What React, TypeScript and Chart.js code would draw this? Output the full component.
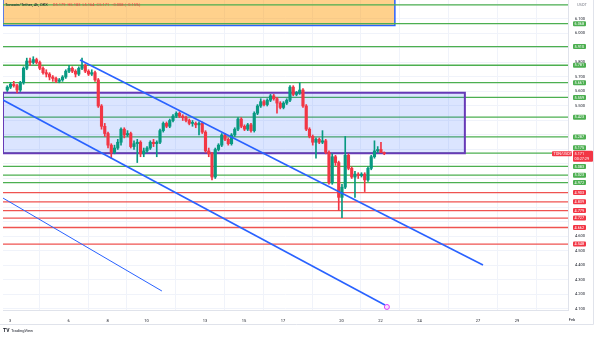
import React, { useEffect, useRef } from 'react';
import { Chart, registerables } from 'chart.js';

Chart.register(...registerables);

// ---- time axis (days of January) ----
const firstCandleDay = 2.86;
const candleStepDays = 1 / 6; // 4h candles
const dayTicks = [3, 6, 8, 10, 13, 15, 17, 20, 22, 24, 27, 29];
const monthTickDay = 32;
const monthTickLabel = 'Feb';
const xRange = [2.64, 31.62];
const yRange = [4.093, 6.231];

// ---- candles ----
const opens = [
  5.61, 5.63, 5.65, 5.64, 5.61, 5.66, 5.76, 5.81, 5.80, 5.82,
  5.80, 5.76, 5.73, 5.72, 5.70, 5.69, 5.67, 5.68, 5.70, 5.74,
  5.76, 5.74, 5.72, 5.76, 5.78, 5.74, 5.72, 5.73, 5.68, 5.50,
  5.36, 5.31, 5.23, 5.18, 5.21, 5.25, 5.34, 5.30, 5.31, 5.22,
  5.24, 5.25, 5.17, 5.19, 5.21, 5.25, 5.24, 5.25, 5.33, 5.38,
  5.36, 5.40, 5.43, 5.45, 5.43, 5.42, 5.40, 5.38, 5.38, 5.37,
  5.38, 5.32, 5.19, 5.17, 5.01, 5.20, 5.23, 5.30, 5.27, 5.24,
  5.30, 5.34, 5.41, 5.36, 5.34, 5.37, 5.33, 5.45, 5.50, 5.53,
  5.51, 5.54, 5.57, 5.55, 5.52, 5.49, 5.52, 5.54, 5.63, 5.58,
  5.59, 5.61, 5.50, 5.34, 5.29, 5.25, 5.27, 5.25, 5.26, 5.18,
  4.97, 5.15, 5.11, 4.87, 4.94, 5.16, 5.07, 5.01, 5.03, 5.02,
  5.03, 4.99, 5.07, 5.15, 5.19, 5.20, 5.179,
];
const highs = [
  5.64, 5.66, 5.67, 5.65, 5.67, 5.77, 5.83, 5.83, 5.84, 5.83,
  5.81, 5.77, 5.75, 5.73, 5.71, 5.70, 5.69, 5.71, 5.75, 5.78,
  5.77, 5.75, 5.77, 5.83, 5.79, 5.75, 5.75, 5.74, 5.69, 5.51,
  5.38, 5.32, 5.24, 5.23, 5.27, 5.35, 5.35, 5.33, 5.32, 5.26,
  5.27, 5.26, 5.21, 5.22, 5.26, 5.27, 5.26, 5.34, 5.39, 5.39,
  5.41, 5.44, 5.46, 5.46, 5.44, 5.43, 5.41, 5.40, 5.39, 5.39,
  5.39, 5.33, 5.21, 5.18, 5.21, 5.24, 5.31, 5.31, 5.28, 5.31,
  5.35, 5.42, 5.42, 5.37, 5.38, 5.38, 5.46, 5.51, 5.55, 5.54,
  5.55, 5.58, 5.58, 5.56, 5.53, 5.53, 5.55, 5.64, 5.64, 5.60,
  5.66, 5.62, 5.51, 5.35, 5.30, 5.28, 5.28, 5.33, 5.27, 5.19,
  5.17, 5.16, 5.12, 4.96, 5.29, 5.17, 5.08, 5.05, 5.04, 5.04,
  5.04, 5.08, 5.16, 5.26, 5.22, 5.25, 5.183,
];
const lows = [
  5.60, 5.62, 5.63, 5.59, 5.60, 5.65, 5.75, 5.78, 5.79, 5.79,
  5.75, 5.72, 5.70, 5.68, 5.67, 5.66, 5.66, 5.67, 5.69, 5.73,
  5.73, 5.70, 5.71, 5.75, 5.73, 5.71, 5.71, 5.67, 5.49, 5.34,
  5.29, 5.21, 5.14, 5.17, 5.20, 5.23, 5.28, 5.29, 5.21, 5.20,
  5.11, 5.15, 5.15, 5.18, 5.20, 5.22, 5.15, 5.24, 5.32, 5.35,
  5.35, 5.39, 5.42, 5.42, 5.40, 5.39, 5.37, 5.36, 5.35, 5.30,
  5.31, 5.18, 5.15, 4.99, 5.00, 5.19, 5.22, 5.26, 5.23, 5.23,
  5.29, 5.33, 5.35, 5.33, 5.33, 5.32, 5.32, 5.44, 5.49, 5.50,
  5.50, 5.53, 5.54, 5.45, 5.48, 5.48, 5.51, 5.53, 5.57, 5.57,
  5.58, 5.49, 5.33, 5.28, 5.23, 5.14, 5.24, 5.24, 5.17, 4.96,
  4.96, 5.09, 4.78, 4.73, 4.93, 5.06, 5.00, 4.87, 5.00, 5.01,
  4.91, 4.98, 5.06, 5.14, 5.18, 5.18, 5.164,
];
const closes = [
  5.63, 5.65, 5.64, 5.61, 5.66, 5.76, 5.81, 5.80, 5.82, 5.80,
  5.76, 5.73, 5.72, 5.70, 5.69, 5.67, 5.68, 5.70, 5.74, 5.76,
  5.74, 5.72, 5.76, 5.78, 5.74, 5.72, 5.73, 5.68, 5.50, 5.36,
  5.31, 5.23, 5.18, 5.21, 5.25, 5.34, 5.30, 5.31, 5.22, 5.24,
  5.25, 5.17, 5.19, 5.21, 5.25, 5.24, 5.25, 5.33, 5.38, 5.36,
  5.40, 5.43, 5.45, 5.43, 5.42, 5.40, 5.38, 5.38, 5.37, 5.38,
  5.32, 5.19, 5.17, 5.01, 5.20, 5.23, 5.30, 5.27, 5.24, 5.30,
  5.34, 5.41, 5.36, 5.34, 5.37, 5.33, 5.45, 5.50, 5.53, 5.51,
  5.54, 5.57, 5.55, 5.52, 5.49, 5.52, 5.54, 5.63, 5.58, 5.59,
  5.61, 5.50, 5.34, 5.29, 5.25, 5.27, 5.25, 5.26, 5.18, 4.97,
  5.15, 5.11, 4.87, 4.94, 5.16, 5.07, 5.01, 5.03, 5.02, 5.03,
  4.99, 5.07, 5.15, 5.19, 5.20, 5.179, 5.171,
];

// ---- drawings ----
const greenLevels = [6.197, 6.068, 5.910, 5.781, 5.661, 5.559, 5.423, 5.287, 5.175, 5.083, 5.023, 4.972];
const greenLabels = [6.068, 5.910, 5.781, 5.661, 5.559, 5.423, 5.287, 5.175, 5.083, 5.023, 4.972];
const redLevels = [4.903, 4.839, 4.779, 4.727, 4.662, 4.548];
const currentPrice = 5.171;
const countdownText = '00:27:29';
const symbolTag = 'TON/USDT';
const headerTitle = 'Toncoin/Tether, 4h, OKX';
const headerValues = 'O5.179  H5.183  L5.164  C5.171  −0.008 (−0.15%)';
const priceTickLabels = ['6.100', '6.000', '5.800', '5.700', '5.600', '5.500', '4.600', '4.500', '4.400', '4.300', '4.200', '4.100'];

const orangeZoneDays = [2.64, 22.74];
const orangeZonePrices = [6.055, 6.45];
const blueZoneDays = [2.64, 26.33];
const blueZonePrices = [5.174, 5.592];

const upperChannelDays = [6.59, 27.26];
const upperChannelPrices = [5.817, 4.403];
const lowerChannelDays = [2.64, 22.23];
const lowerChannelPrices = [5.541, 4.128];
const thinLineDays = [2.64, 10.79];
const thinLinePrices = [4.865, 4.224];
const markerDay = [22.33];
const markerPrice = [4.114];

const UP = '#089981';
const DOWN = '#f23645';
const GREEN = '#4caf50';
const RED = '#ef5350';
const BLUE = '#2962ff';
const PURPLE = '#673ab7';
const FRAME = '#e0e3eb';
const FONT = 'Roboto, "DejaVu Sans", sans-serif';

function rectPoints(days: number[], prices: number[]) {
  return [
    { x: days[0], y: prices[0] },
    { x: days[0], y: prices[1] },
    { x: days[1], y: prices[1] },
    { x: days[1], y: prices[0] },
    { x: days[0], y: prices[0] },
  ];
}

function tag(ctx: CanvasRenderingContext2D, x: number, top: number, w: number, h: number, bg: string) {
  ctx.fillStyle = bg;
  ctx.beginPath();
  const r = 1;
  ctx.moveTo(x + r, top);
  ctx.lineTo(x + w - r, top);
  ctx.quadraticCurveTo(x + w, top, x + w, top + r);
  ctx.lineTo(x + w, top + h - r);
  ctx.quadraticCurveTo(x + w, top + h, x + w - r, top + h);
  ctx.lineTo(x + r, top + h);
  ctx.quadraticCurveTo(x, top + h, x, top + h - r);
  ctx.lineTo(x, top + r);
  ctx.quadraticCurveTo(x, top, x + r, top);
  ctx.fill();
}

const overlayPlugin = {
  id: 'tvOverlay',
  afterDraw(chart: any) {
    const { ctx, chartArea } = chart;
    const ys = chart.scales.y;
    const xs = chart.scales.x;
    ctx.save();
    ctx.textBaseline = 'middle';

    // outer frame (price/time axis edges)
    ctx.strokeStyle = FRAME;
    ctx.lineWidth = 1;
    ctx.beginPath();
    ctx.moveTo(593.5, 0);
    ctx.lineTo(593.5, 324.5);
    ctx.lineTo(0, 324.5);
    ctx.stroke();

    // header
    ctx.font = `4px ${FONT}`;
    ctx.fillStyle = '#131722';
    ctx.textAlign = 'left';
    ctx.fillText(headerTitle, 5, 5);
    const tw = ctx.measureText(headerTitle).width;
    ctx.fillStyle = DOWN;
    ctx.fillText(headerValues, 5 + tw + 5, 5);

    // USDT
    ctx.fillStyle = '#787b86';
    ctx.fillText('USDT', 577, 5);

    // current price tag
    const cp = ys.getPixelForValue(currentPrice);
    const curTop = cp - 3;
    const curBottom = cp + 8;
    const tagX = chartArea.right + 5;

    const items = [
      ...greenLabels.map((v) => ({ v, c: GREEN })),
      ...redLevels.map((v) => ({ v, c: DOWN })),
    ];
    ctx.font = `3.8px ${FONT}`;
    items.forEach((it) => {
      let yc = ys.getPixelForValue(it.v);
      if (yc + 2.5 > curTop && yc - 2.5 < curBottom) {
        yc = yc < (curTop + curBottom) / 2 ? curTop - 3 : curBottom + 3;
      }
      tag(ctx, tagX, yc - 2.5, 13, 5, it.c);
      ctx.fillStyle = '#ffffff';
      ctx.fillText(it.v.toFixed(3), tagX + 1.5, yc + 0.2);
    });

    tag(ctx, tagX, curTop, 20, 11, DOWN);
    ctx.fillStyle = '#ffffff';
    ctx.fillText(currentPrice.toFixed(3), tagX + 1.5, cp + 0.2);
    ctx.fillText(countdownText, tagX + 1.5, cp + 5.2);

    tag(ctx, chartArea.right - 16, cp - 2.5, 20, 5, DOWN);
    ctx.fillStyle = '#ffffff';
    ctx.fillText(symbolTag, chartArea.right - 14.5, cp + 0.2);

    // month label at right edge of time axis (clipped)
    ctx.save();
    ctx.beginPath();
    ctx.rect(0, chartArea.bottom, 575, 14);
    ctx.clip();
    ctx.font = `4px ${FONT}`;
    ctx.fillStyle = '#131722';
    ctx.textAlign = 'center';
    const mx = Math.min(xs.getPixelForValue(monthTickDay), chartArea.right + 4);
    ctx.fillText(monthTickLabel, mx, 320);
    ctx.restore();

    // logo
    ctx.textAlign = 'left';
    ctx.fillStyle = '#131722';
    ctx.font = `bold 5px ${FONT}`;
    ctx.fillText('TV', 3, 331);
    ctx.font = `4px ${FONT}`;
    ctx.fillText('TradingView', 11, 331);

    ctx.restore();
  },
};

export default function App() {
  const ref = useRef<HTMLCanvasElement | null>(null);

  useEffect(() => {
    if (!ref.current) return;
    const candleX = opens.map((_, i) => firstCandleDay + i * candleStepDays);
    const candleColors = closes.map((c, i) => (c >= opens[i] ? UP : DOWN));

    const levelLine = (v: number, color: string) => ({
      type: 'line' as const,
      data: [
        { x: xRange[0], y: v },
        { x: xRange[1], y: v },
      ],
      borderColor: color,
      borderWidth: 1.3,
      pointRadius: 0,
      fill: false,
      order: 8,
    });

    const seg = (days: number[], prices: number[], width: number) => ({
      type: 'line' as const,
      data: days.map((d, i) => ({ x: d, y: prices[i] })),
      borderColor: BLUE,
      borderWidth: width,
      pointRadius: 0,
      fill: false,
      order: 1,
    });

    const datasets: any[] = [
      {
        type: 'line',
        data: rectPoints(orangeZoneDays, orangeZonePrices),
        borderColor: BLUE,
        borderWidth: 1.5,
        backgroundColor: 'rgba(255,152,0,0.45)',
        fill: 'shape',
        pointRadius: 0,
        order: 12,
      },
      ...greenLevels.map((v) => levelLine(v, GREEN)),
      ...redLevels.map((v) => levelLine(v, RED)),
      {
        type: 'line',
        data: rectPoints(blueZoneDays, blueZonePrices),
        borderColor: PURPLE,
        borderWidth: 2,
        backgroundColor: 'rgba(41,98,255,0.17)',
        fill: 'shape',
        pointRadius: 0,
        order: 7,
      },
      {
        type: 'bar',
        data: candleX.map((x, i) => ({ x, y: [lows[i], highs[i]] })),
        backgroundColor: candleColors,
        barThickness: 1,
        grouped: false,
        order: 5,
      },
      {
        type: 'bar',
        data: candleX.map((x, i) => ({ x, y: [opens[i], closes[i]] })),
        backgroundColor: candleColors,
        barThickness: 2.5,
        minBarLength: 1,
        grouped: false,
        order: 4,
      },
      seg(upperChannelDays, upperChannelPrices, 1.6),
      seg(lowerChannelDays, lowerChannelPrices, 1.6),
      seg(thinLineDays, thinLinePrices, 1),
      {
        type: 'scatter',
        data: markerDay.map((d, i) => ({ x: d, y: markerPrice[i] })),
        pointRadius: 2.5,
        pointBorderWidth: 1,
        pointBorderColor: '#e040fb',
        pointBackgroundColor: 'rgba(224,64,251,0.15)',
        order: 0,
      },
    ];

    const zeroPad = (scale: any) => {
      scale.paddingTop = 0;
      scale.paddingBottom = 0;
      scale.paddingLeft = 0;
      scale.paddingRight = 0;
    };

    const chart = new Chart(ref.current, {
      type: 'bar',
      data: { datasets },
      options: {
        responsive: false,
        animation: false,
        events: [],
        layout: { autoPadding: false, padding: { left: 3, right: 0, top: 0, bottom: 10 } },
        plugins: { legend: { display: false }, tooltip: { enabled: false } },
        scales: {
          x: {
            type: 'linear',
            min: xRange[0],
            max: xRange[1],
            offset: false,
            afterBuildTicks: (scale: any) => {
              scale.ticks = dayTicks.map((v) => ({ value: v }));
            },
            afterFit: (scale: any) => {
              scale.height = 18;
              zeroPad(scale);
            },
            ticks: {
              autoSkip: false,
              maxRotation: 0,
              padding: 9,
              color: '#131722',
              font: { size: 4, family: FONT },
              callback: (v: any) => String(v),
            },
            grid: { color: '#f0f3fa', drawTicks: false },
            border: { color: FRAME },
          },
          y: {
            type: 'linear',
            position: 'right',
            min: yRange[0],
            max: yRange[1],
            afterFit: (scale: any) => {
              scale.width = 32;
              zeroPad(scale);
            },
            ticks: {
              stepSize: 0.1,
              includeBounds: false,
              padding: 7,
              color: '#131722',
              font: { size: 4, family: FONT },
              callback: (v: any) => {
                const s = Number(v).toFixed(3);
                return priceTickLabels.includes(s) ? s : '';
              },
            },
            grid: { color: '#f0f3fa', drawTicks: false },
            border: { color: FRAME },
          },
        },
      },
      plugins: [overlayPlugin],
    });
    return () => chart.destroy();
  }, []);

  return (
    <div style={{ position: 'fixed', left: 0, top: 0, width: 600, height: 338, background: '#ffffff' }}>
      <canvas ref={ref} width={600} height={338} />
    </div>
  );
}
